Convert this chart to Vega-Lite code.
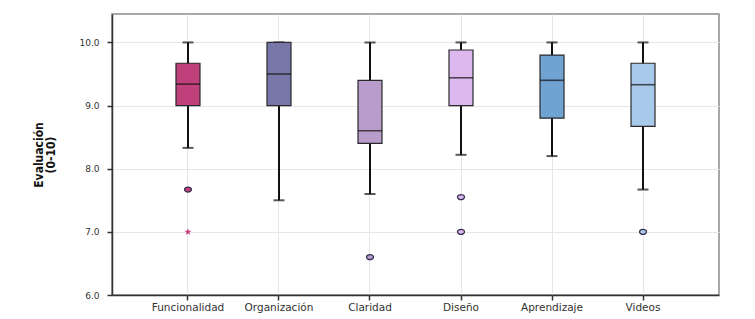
{
  "$schema": "https://vega.github.io/schema/vega-lite/v6.json",
  "autosize": "none",
  "width": 607,
  "height": 281,
  "padding": {"left": 112, "top": 14, "right": 36, "bottom": 24},
  "background": "white",
  "config": {
    "view": {"stroke": "#8a8a8a", "strokeWidth": 1.5},
    "axis": {
      "labelFont": "DejaVu Sans",
      "labelFontSize": 9,
      "labelColor": "#333333",
      "domainColor": "#333333",
      "domainWidth": 1.5,
      "tickColor": "#333333",
      "tickWidth": 1.5,
      "tickSize": 5,
      "gridColor": "#e6e6e6",
      "gridWidth": 1
    }
  },
  "datasets": {
    "stats": [
      {"cat": "Funcionalidad", "lower": 8.33, "q1": 9.0, "median": 9.34, "q3": 9.67, "upper": 10.0},
      {"cat": "Organización", "lower": 7.5, "q1": 9.0, "median": 9.5, "q3": 10.0, "upper": 10.0},
      {"cat": "Claridad", "lower": 7.6, "q1": 8.4, "median": 8.6, "q3": 9.4, "upper": 10.0},
      {"cat": "Diseño", "lower": 8.22, "q1": 9.0, "median": 9.44, "q3": 9.88, "upper": 10.0},
      {"cat": "Aprendizaje", "lower": 8.2, "q1": 8.8, "median": 9.4, "q3": 9.8, "upper": 10.0},
      {"cat": "Videos", "lower": 7.67, "q1": 8.67, "median": 9.33, "q3": 9.67, "upper": 10.0}
    ],
    "outliers": [
      {"cat": "Funcionalidad", "value": 7.67, "kind": "circle"},
      {"cat": "Funcionalidad", "value": 7.0, "kind": "star"},
      {"cat": "Claridad", "value": 6.6, "kind": "circle"},
      {"cat": "Diseño", "value": 7.55, "kind": "circle"},
      {"cat": "Diseño", "value": 7.0, "kind": "circle"},
      {"cat": "Videos", "value": 7.0, "kind": "circle"}
    ]
  },
  "encoding": {
    "x": {
      "field": "cat",
      "type": "nominal",
      "sort": ["Funcionalidad", "Organización", "Claridad", "Diseño", "Aprendizaje", "Videos"],
      "scale": {"type": "band", "paddingInner": 0, "paddingOuter": 0.335},
      "axis": {"title": null, "labelAngle": 0, "grid": true, "bandPosition": 0.5, "labelPadding": 2, "labelFontSize": 10.5}
    },
    "color": {
      "field": "cat",
      "type": "nominal",
      "legend": null,
      "scale": {
        "domain": ["Funcionalidad", "Organización", "Claridad", "Diseño", "Aprendizaje", "Videos"],
        "range": ["#c0407c", "#7878a8", "#b89ccc", "#dcb8ee", "#70a2d2", "#a8c9ea"]
      }
    }
  },
  "layer": [
    {
      "data": {"name": "stats"},
      "mark": {"type": "rule", "color": "#111111", "strokeWidth": 2},
      "encoding": {
        "y": {
          "field": "lower",
          "type": "quantitative",
          "scale": {"domain": [6, 10.45], "nice": false, "zero": false},
          "axis": {
            "title": ["Evaluación", "(0-10)"],
            "titleFont": "DejaVu Sans Condensed",
            "titleFontWeight": "bold",
            "titleFontSize": 12,
            "titleColor": "#111111",
            "titleLineHeight": 12,
            "titlePadding": 21,
            "values": [6, 7, 8, 9, 10],
            "format": ".1f",
            "grid": true,
            "labelPadding": 8
          }
        },
        "y2": {"field": "upper"},
        "color": {"value": "#111111"}
      }
    },
    {
      "data": {"name": "stats"},
      "mark": {"type": "tick", "color": "#111111", "thickness": 2, "size": 11},
      "encoding": {"y": {"field": "lower", "type": "quantitative"}, "color": {"value": "#111111"}}
    },
    {
      "data": {"name": "stats"},
      "mark": {"type": "tick", "color": "#111111", "thickness": 2, "size": 11},
      "encoding": {"y": {"field": "upper", "type": "quantitative"}, "color": {"value": "#111111"}}
    },
    {
      "data": {"name": "stats"},
      "mark": {"type": "bar", "width": 24, "stroke": "#2a2a2a", "strokeWidth": 1.2, "opacity": 1},
      "encoding": {
        "y": {"field": "q1", "type": "quantitative"},
        "y2": {"field": "q3"}
      }
    },
    {
      "data": {"name": "stats"},
      "mark": {"type": "tick", "color": "#111111", "thickness": 1.6, "size": 24},
      "encoding": {"y": {"field": "median", "type": "quantitative"}, "color": {"value": "#111111"}}
    },
    {
      "data": {"name": "outliers"},
      "transform": [{"filter": "datum.kind === 'circle'"}],
      "mark": {"type": "point", "shape": "M-1.2,0A1.2,0.85 0 1,0 1.2,0A1.2,0.85 0 1,0 -1.2,0Z", "filled": true, "size": 34, "stroke": "#3a3050", "strokeWidth": 1.3, "opacity": 1},
      "encoding": {"y": {"field": "value", "type": "quantitative"}}
    },
    {
      "data": {"name": "outliers"},
      "transform": [{"filter": "datum.kind === 'star'"}],
      "mark": {"type": "point", "shape": "M0,-1L0.22,-0.31L0.95,-0.31L0.36,0.12L0.59,0.81L0,0.38L-0.59,0.81L-0.36,0.12L-0.95,-0.31L-0.22,-0.31Z", "filled": true, "size": 60, "opacity": 1},
      "encoding": {"y": {"field": "value", "type": "quantitative"}}
    }
  ]
}
